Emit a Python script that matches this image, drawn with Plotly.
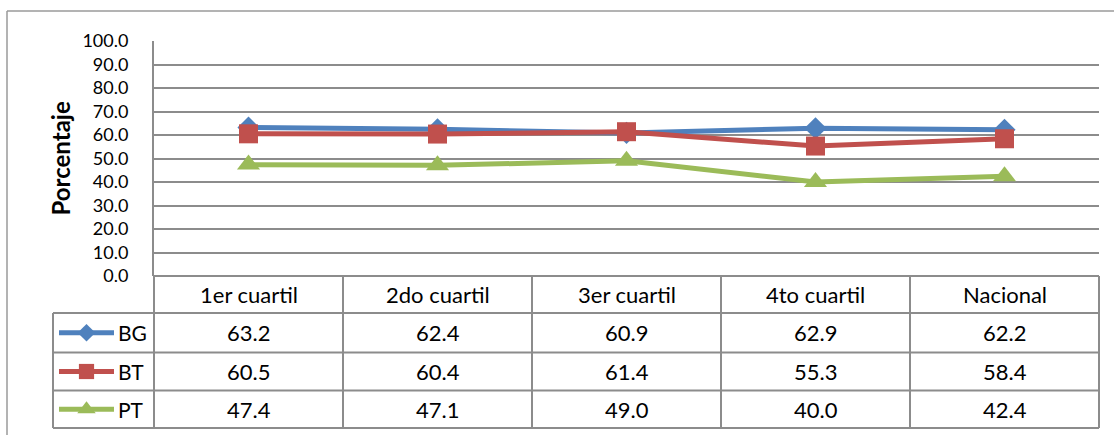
import plotly.graph_objects as go

# Data
categories = ["1er cuartil", "2do cuartil", "3er cuartil", "4to cuartil", "Nacional"]
bg = [63.2, 62.4, 60.9, 62.9, 62.2]
bt = [60.5, 60.4, 61.4, 55.3, 58.4]
pt = [47.4, 47.1, 49.0, 40.0, 42.4]
series_names = ["BG", "BT", "PT"]
y_ticks = [0, 10, 20, 30, 40, 50, 60, 70, 80, 90, 100]

W, H = 1114, 435
FONT = "Lato"
GRID = "#8c8c8c"
COLORS = {"BG": "#4F81BD", "BT": "#C0504D", "PT": "#9BBB59"}
SYMBOLS = {"BG": ("diamond", 17), "BT": ("square", 19), "PT": ("triangle-up", 20)}

# Layout in pixels
PLOT_L, PLOT_R, PLOT_T, PLOT_B = 154, 1099, 41, 276
HEAD_B = 313
ROW_LINES = [313, 352.5, 390.5, 428]
KEY_L = 53


def px(x):
    return x / W


def py(y):
    return 1 - y / H


fig = go.Figure()

values = {"BG": bg, "BT": bt, "PT": pt}
for name in series_names:
    sym, size = SYMBOLS[name]
    fig.add_trace(go.Scatter(
        x=categories, y=values[name], mode="lines+markers", name=name,
        line=dict(color=COLORS[name], width=5),
        marker=dict(symbol=sym, size=size, color=COLORS[name]),
        showlegend=False, cliponaxis=False,
    ))

# Legend keys inside the data table (auxiliary axes in pixel units)
for i, name in enumerate(series_names):
    sym, size = SYMBOLS[name]
    yc = (ROW_LINES[i] + ROW_LINES[i + 1]) / 2
    fig.add_trace(go.Scatter(
        x=[59, 86.5, 114], y=[yc, yc, yc], mode="lines", xaxis="x2", yaxis="y2",
        line=dict(color=COLORS[name], width=5), showlegend=False, hoverinfo="skip",
    ))
    fig.add_trace(go.Scatter(
        x=[86.5], y=[yc], mode="markers", xaxis="x2", yaxis="y2",
        marker=dict(symbol=sym, size=size * 0.8, color=COLORS[name]),
        showlegend=False, hoverinfo="skip",
    ))

shapes = []


def hline(x0, x1, y, w=1.5, color=GRID):
    shapes.append(dict(type="line", xref="paper", yref="paper",
                       x0=px(x0), x1=px(x1), y0=py(y), y1=py(y),
                       line=dict(color=color, width=w)))


def vline(x, y0, y1, w=1.5, color=GRID):
    shapes.append(dict(type="line", xref="paper", yref="paper",
                       x0=px(x), x1=px(x), y0=py(y0), y1=py(y1),
                       line=dict(color=color, width=w)))


# Outer chart frame (top and left edges visible)
hline(7, W, 11, w=1.5, color="#9a9a9a")
vline(7, 11, H, w=1.5, color="#9a9a9a")

# Data table grid
col_w = (PLOT_R - PLOT_L) / len(categories)
for k in range(len(categories) + 1):
    vline(PLOT_L + k * col_w, PLOT_B, ROW_LINES[-1], w=2)
vline(KEY_L, ROW_LINES[0], ROW_LINES[-1], w=2)
hline(PLOT_L, PLOT_R, PLOT_B, w=2)
for y in ROW_LINES:
    hline(KEY_L, PLOT_R, y, w=2)

annotations = []
# Category header row
for c in categories:
    annotations.append(dict(x=c, xref="x", y=py((PLOT_B + HEAD_B) / 2), yref="paper",
                            text=c, showarrow=False, xanchor="center", yanchor="middle",
                            font=dict(family=FONT, size=22, color="#000")))
# Values and series labels
for i, name in enumerate(series_names):
    yc = (ROW_LINES[i] + ROW_LINES[i + 1]) / 2
    for c, v in zip(categories, values[name]):
        annotations.append(dict(x=c, xref="x", y=py(yc), yref="paper",
                                text=f"{v:.1f}", showarrow=False, xanchor="center",
                                yanchor="middle",
                                font=dict(family=FONT, size=22, color="#000")))
    annotations.append(dict(x=px(116), xref="paper", y=py(yc), yref="paper",
                            text=name, showarrow=False, xanchor="left", yanchor="middle",
                            font=dict(family=FONT, size=21, color="#000")))

# Y axis title
annotations.append(dict(x=px(60), xref="paper", y=py((PLOT_T + PLOT_B) / 2), yref="paper",
                        text="<b>Porcentaje</b>", textangle=-90, showarrow=False,
                        xanchor="center", yanchor="middle",
                        font=dict(family=FONT, size=24, color="#000")))

fig.update_layout(
    template="none",
    width=W, height=H, autosize=False,
    margin=dict(l=0, r=0, t=0, b=0, pad=0, autoexpand=False),
    paper_bgcolor="white", plot_bgcolor="white",
    font=dict(family=FONT, color="#000"),
    xaxis=dict(domain=[px(PLOT_L), px(PLOT_R)], type="category", automargin=False,
               range=[-0.5, len(categories) - 0.5], showticklabels=False,
               showgrid=False, zeroline=False, showline=False, ticks=""),
    yaxis=dict(domain=[py(PLOT_B), py(PLOT_T)], range=[0, 100], automargin=False,
               tickvals=y_ticks, ticktext=[f"{t:.1f}" for t in y_ticks],
               showgrid=True, gridcolor=GRID, gridwidth=2,
               zeroline=False, showline=True, linecolor=GRID, linewidth=2,
               ticks="", ticklabelstandoff=20,
               tickfont=dict(family=FONT, size=18, color="#000")),
    xaxis2=dict(domain=[px(KEY_L), px(PLOT_L)], range=[KEY_L, PLOT_L], visible=False,
                anchor="y2", fixedrange=True, automargin=False),
    yaxis2=dict(domain=[py(ROW_LINES[-1]), py(ROW_LINES[0])],
                range=[ROW_LINES[-1], ROW_LINES[0]], visible=False,
                anchor="x2", fixedrange=True, automargin=False),
    shapes=shapes,
    annotations=annotations,
)

# Page without body margin so the figure fills the window exactly
fig.write_html(
    "out.html",
    post_script="document.body.style.margin='0';document.body.style.overflow='hidden';",
)
